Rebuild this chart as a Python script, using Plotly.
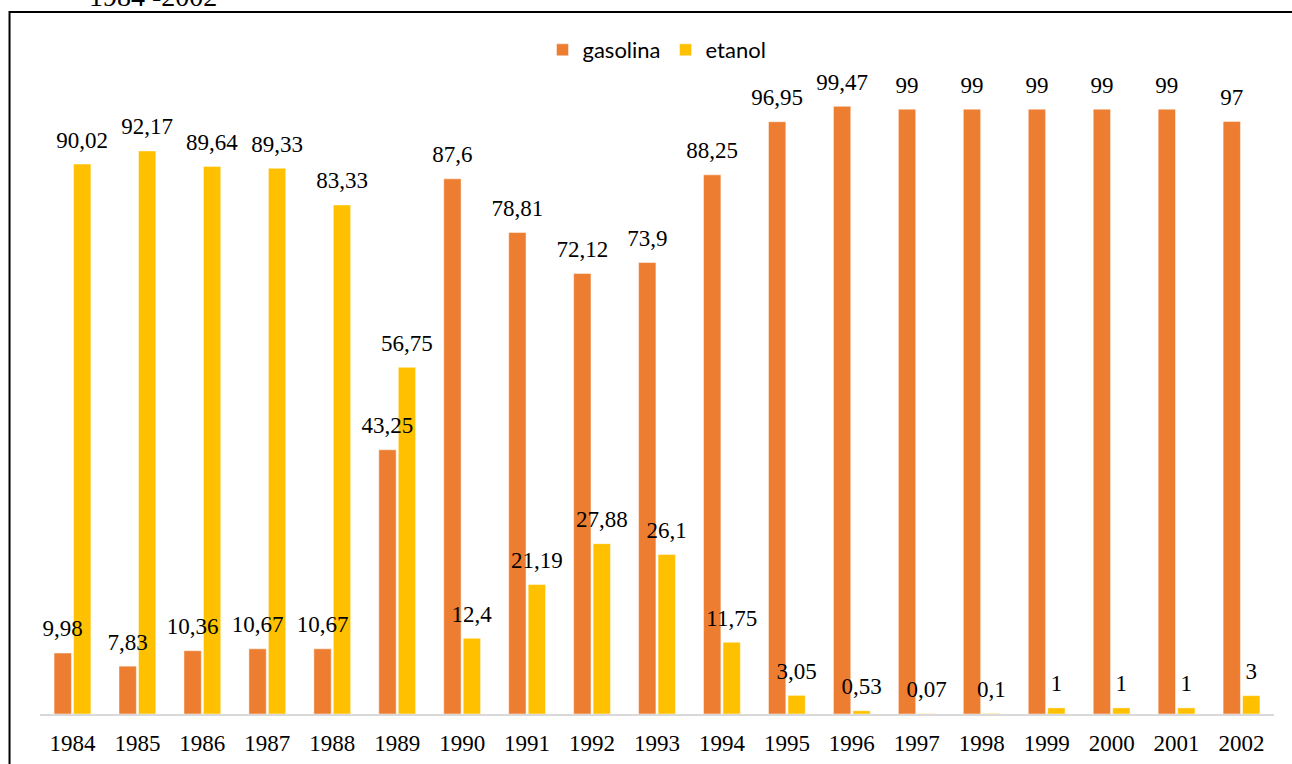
import plotly.graph_objects as go

years = ["1984", "1985", "1986", "1987", "1988", "1989", "1990", "1991", "1992", "1993",
         "1994", "1995", "1996", "1997", "1998", "1999", "2000", "2001", "2002"]
gasolina = [9.98, 7.83, 10.36, 10.67, 10.67, 43.25, 87.6, 78.81, 72.12, 73.9,
            88.25, 96.95, 99.47, 99, 99, 99, 99, 99, 97]
etanol = [90.02, 92.17, 89.64, 89.33, 83.33, 56.75, 12.4, 21.19, 27.88, 26.1,
          11.75, 3.05, 0.53, 0.07, 0.1, 1, 1, 1, 3]
title_text = "1984 -2002"


def fmt(v):
    return f"{v:g}".replace(".", ",")


serif = "Liberation Serif, Times New Roman, serif"
series = [("gasolina", gasolina, "#ED7D31"), ("etanol", etanol, "#FFC000")]
LABEL_LIFT = 1.4  # visual gap between bar end and its data label (axis units)

fig = go.Figure()
# bars
for name, vals, color in series:
    fig.add_trace(go.Bar(
        x=years, y=vals, name=name, offsetgroup=name,
        marker=dict(color=color, line=dict(color="rgba(255,255,255,0.6)", width=0.8)),
        cliponaxis=False,
    ))
# data labels drawn on top of all bars
for name, vals, color in series:
    fig.add_trace(go.Bar(
        x=years, y=vals, base=LABEL_LIFT, name=name, offsetgroup=name, showlegend=False,
        marker=dict(color="rgba(0,0,0,0)", line=dict(width=0)),
        text=[fmt(v) for v in vals], textposition="outside",
        textfont=dict(family=serif, size=23, color="black"),
        constraintext="none", cliponaxis=False, hoverinfo="skip",
    ))

W, H = 1292, 764
ml, mr, mt, mb = 39.5, 17.5, 42, 50
pw = W - ml - mr
ph = H - mt - mb


def px_x(x):
    return (x - ml) / pw


def px_y(y):
    return (H - mb - y) / ph


fig.update_layout(
    width=W, height=H,
    margin=dict(l=ml, r=mr, t=mt, b=mb, pad=0, autoexpand=False),
    paper_bgcolor="white", plot_bgcolor="white",
    barmode="group", bargap=0.4, bargroupgap=0.11,
    showlegend=True,
    legend=dict(orientation="h", x=0.5, xanchor="center", y=px_y(50), yanchor="middle",
                font=dict(family="Lato, Open Sans, sans-serif", size=22, color="black"),
                itemwidth=30, bgcolor="rgba(0,0,0,0)"),
    xaxis=dict(showline=True, linecolor="#D9D9D9", linewidth=2, ticks="",
               tickfont=dict(family=serif, size=23, color="black"),
               ticklabelstandoff=7, showgrid=False, zeroline=False, automargin=False),
    yaxis=dict(range=[0, 110], visible=False, showgrid=False, zeroline=False, automargin=False),
    shapes=[dict(type="rect", xref="paper", yref="paper",
                 x0=px_x(9), x1=px_x(1320), y0=px_y(800), y1=px_y(12),
                 line=dict(color="black", width=2), fillcolor="rgba(0,0,0,0)", layer="above")],
    annotations=[dict(text=title_text, xref="paper", yref="paper",
                      x=px_x(153), y=px_y(-3), xanchor="center", yanchor="middle",
                      showarrow=False, font=dict(family=serif, size=28, color="black"))],
)

fig.write_html(
    "out.html",
    config={"displayModeBar": False},
    post_script="document.body.style.margin='0';document.body.style.overflow='hidden';",
)
